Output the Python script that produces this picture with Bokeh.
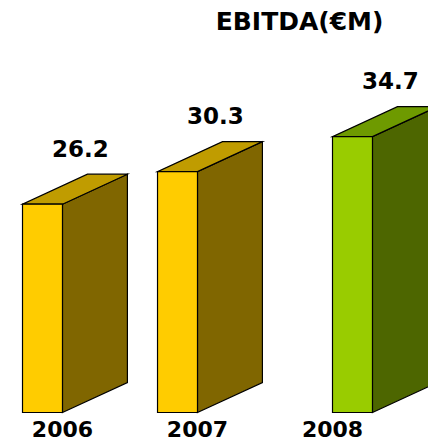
from bokeh.plotting import figure
from bokeh.models import Range1d, ColumnDataSource, Label
from bokeh.core.properties import value
from bokeh.embed import file_html
from bokeh.resources import INLINE

# EBITDA per year, in millions of euro
years = ["2006", "2007", "2008"]
ebitda = [26.2, 30.3, 34.7]

# face colours per bar: front, top, side
front_colors = ["#FFCC00", "#FFCC00", "#99CC00"]
top_colors = ["#C09C00", "#C09C00", "#6E9A00"]
side_colors = ["#806600", "#806600", "#4D6600"]

# layout of the pseudo-3D bars (x in category units, y in value units)
bar_width = 0.296
depth_x = 0.481
depth_y = 3.77
bar_shift = [0.0, 0.0, 0.296]

W, H = 428, 443
p = figure(width=W, height=H, output_backend="svg", toolbar_location=None,
           x_range=Range1d(-0.459, 2.711), y_range=Range1d(-3.9, 51.82),
           min_border=0, min_border_left=0, min_border_right=0,
           min_border_top=0, min_border_bottom=0)
p.axis.visible = False
p.grid.visible = False
p.outline_line_color = None
p.background_fill_color = "white"
p.border_fill_color = "white"

front_xs, front_ys, top_xs, top_ys, side_xs, side_ys = [], [], [], [], [], []
for i, v in enumerate(ebitda):
    x0 = i - bar_width + bar_shift[i]
    x1 = x0 + bar_width
    front_xs.append([x0, x1, x1, x0])
    front_ys.append([0, 0, v, v])
    top_xs.append([x0, x1, x1 + depth_x, x0 + depth_x])
    top_ys.append([v, v, v + depth_y, v + depth_y])
    side_xs.append([x1, x1 + depth_x, x1 + depth_x, x1])
    side_ys.append([0, depth_y, v + depth_y, v])

for xs, ys, cols in ((side_xs, side_ys, side_colors),
                     (top_xs, top_ys, top_colors),
                     (front_xs, front_ys, front_colors)):
    src = ColumnDataSource(dict(xs=xs, ys=ys, color=cols))
    p.patches("xs", "ys", source=src, fill_color="color",
              line_color="black", line_width=1.2, line_join="miter")

font = value("DejaVu Sans")

# value labels above each bar
lab_x = [i - bar_width + bar_shift[i] + (bar_width + depth_x) / 2 + 0.04
         for i in range(len(ebitda))]
lab_y = [v + depth_y + 3.25 for v in ebitda]
p.text(x=lab_x, y=lab_y, text=[f"{v:.1f}" for v in ebitda],
       text_font=font, text_font_style="bold", text_font_size="23px",
       text_color="black", text_align="center", text_baseline="alphabetic")

# year labels under each bar
p.text(x=list(range(len(years))), y=[-2.05] * len(years), text=years,
       text_font=font, text_font_style="bold", text_font_size="22px",
       text_color="black", text_align="center", text_baseline="alphabetic")

p.add_layout(Label(x=1.756, y=49.2, text="EBITDA(€M)", text_font="DejaVu Sans",
                   text_font_style="bold", text_font_size="25px",
                   text_color="black", text_align="center",
                   text_baseline="alphabetic"))

open("out.html", "w").write(file_html(p, INLINE))
